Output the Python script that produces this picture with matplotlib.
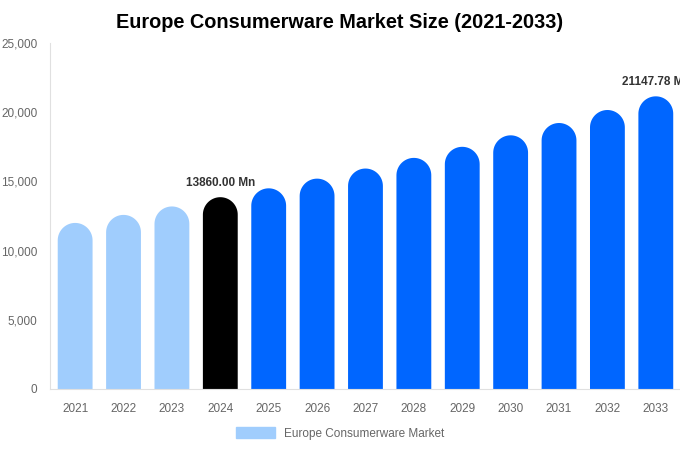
import numpy as np
import matplotlib
matplotlib.use("Agg")
import matplotlib.pyplot as plt
from matplotlib.patches import Polygon, Patch

plt.rcParams['font.family'] = ['Liberation Sans', 'DejaVu Sans']

years = ['2021', '2022', '2023', '2024', '2025', '2026', '2027',
         '2028', '2029', '2030', '2031', '2032', '2033']
values = [12000, 12580, 13190, 13860, 14500, 15200, 15930,
          16700, 17500, 18330, 19220, 20160, 21147.78]
labels = {3: '13860.00 Mn', 12: '21147.78 Mn'}

light = '#a0cdfd'
blue = '#0066ff'
colors = [light] * 3 + ['#000000'] + [blue] * 9

fig = plt.figure(figsize=(6.8, 4.5), dpi=100)
ax = fig.add_axes([0.0735, 0.1356, 0.9265, 0.7688])
ax.set_xlim(-0.52, 12.5)
ax.set_ylim(0, 25000)

width = 0.72
# height of the half-round cap in data units (circle in pixels)
px_per_x = ax.bbox.width / 13.02
px_per_y = ax.bbox.height / 25000
r_y = (width / 2) * px_per_x / px_per_y

t = np.linspace(0, np.pi, 40)
for x, v, c in zip(range(len(years)), values, colors):
    arc = np.column_stack([x + width / 2 * np.cos(t), v - r_y + r_y * np.sin(t)])
    pts = np.vstack([[x - width / 2, 0], [x + width / 2, 0], arc])
    ax.add_patch(Polygon(pts, closed=True, facecolor=c, edgecolor='none'))

for i, txt in labels.items():
    ax.text(i, values[i] + 600, txt, ha='center', va='bottom',
            fontsize=8.5, fontweight='bold', color='#333333', clip_on=False)

ax.set_xticks(range(len(years)))
ax.set_xticklabels(years)
ax.set_yticks([0, 5000, 10000, 15000, 20000, 25000])
ax.set_yticklabels(['0', '5,000', '10,000', '15,000', '20,000', '25,000'])
ax.tick_params(axis='both', length=0, labelsize=8.5, colors='#666666')
ax.tick_params(axis='x', pad=10)
ax.tick_params(axis='y', pad=9)

for s in ['top', 'right']:
    ax.spines[s].set_visible(False)
ax.spines['left'].set_color('#e0e0e0')
ax.spines['bottom'].set_color('#e0e0e0')

fig.suptitle('Europe Consumerware Market Size (2021-2033)', x=0.5, y=0.97,
             fontsize=14.3, fontweight='bold', color='#000000')

fig.legend(handles=[Patch(color=light, label='Europe Consumerware Market')],
           loc='center', bbox_to_anchor=(0.5, 0.037), frameon=False,
           fontsize=8.5, labelcolor='#666666', handlelength=3.3, handleheight=1.0)

fig.savefig('out.png', dpi=100)
